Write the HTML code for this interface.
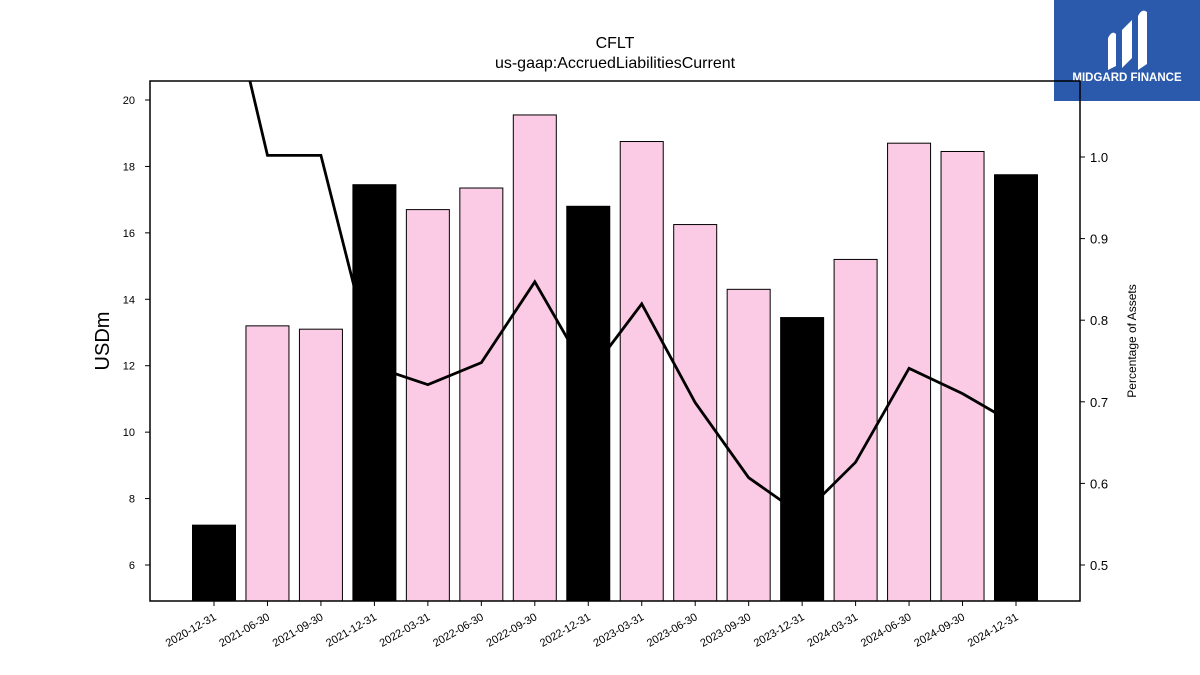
<!DOCTYPE html>
<html><head><meta charset="utf-8"><style>
body{margin:0;background:#fff;}
svg{display:block;font-family:"Liberation Sans","DejaVu Sans",sans-serif;}
</style></head><body>
<svg id="chart" width="1200" height="675">
<text x="615" y="48" text-anchor="middle" font-size="16">CFLT</text>
<text x="615" y="68" text-anchor="middle" font-size="16">us-gaap:AccruedLiabilitiesCurrent</text>
<g>
<rect x="1054" y="0" width="146" height="101" fill="#2b5aad"/>
<path d="M1108 70 L1108 38 Q1112 30 1116 34 L1116 66 Z M1122 68 L1122 30 L1132 20 L1132 58 Z M1138 70 L1138 16 Q1142 8 1147 12 L1147 64 Z" fill="#fff"/>
<text x="1127" y="81" text-anchor="middle" font-size="11.5" font-weight="bold" fill="#fff">MIDGARD FINANCE</text>
</g>
<g id="plot"></g>
<text x="109" y="341" text-anchor="middle" font-size="20" transform="rotate(-90 109 341)">USDm</text>
<text x="1136" y="341" text-anchor="middle" font-size="12" transform="rotate(-90 1136 341)">Percentage of Assets</text>
</svg>
<script>
const categories=["2020-12-31","2021-06-30","2021-09-30","2021-12-31","2022-03-31","2022-06-30","2022-09-30","2022-12-31","2023-03-31","2023-06-30","2023-09-30","2023-12-31","2024-03-31","2024-06-30","2024-09-30","2024-12-31"];
const barValues=[7.2,13.2,13.1,17.45,16.7,17.35,19.55,16.8,18.75,16.25,14.3,13.45,15.2,18.7,18.45,17.75];
const pctValues=[1.28,1.002,1.002,0.743,0.721,0.748,0.847,0.733,0.820,0.699,0.607,0.561,0.626,0.741,0.710,0.672];
const annual=[true,false,false,true,false,false,false,true,false,false,false,true,false,false,false,true];
const leftTicks=[6,8,10,12,14,16,18,20];
const rightTicks=[0.5,0.6,0.7,0.8,0.9,1.0];
const L=150,R=1080,T=81,B=601;
const ns="http://www.w3.org/2000/svg";
const g=document.getElementById('plot');
const yL=v=>565-(v-6)*33.214;
const yR=v=>565-(v-0.5)*816;
const step=(1016-214)/15;
const xC=i=>214+i*step;
function mk(t,a){const e=document.createElementNS(ns,t);for(const k in a)e.setAttribute(k,a[k]);g.appendChild(e);return e;}
const clip=mk('clipPath',{id:'pc'});g.removeChild(clip);
const cr=document.createElementNS(ns,'rect');cr.setAttribute('x',L);cr.setAttribute('y',T);cr.setAttribute('width',R-L);cr.setAttribute('height',B-T);clip.appendChild(cr);g.appendChild(clip);
barValues.forEach((v,i)=>{
 const r=mk('rect',{x:xC(i)-21.5,y:yL(v),width:43,height:B-yL(v),fill:annual[i]?'#000':'#fbcbe5',stroke:'#000','stroke-width':1});
 
 
});
const pts=pctValues.map((v,i)=>xC(i)+','+yR(v)).join(' ');
const pl=mk('polyline',{points:pts,fill:'none',stroke:'#000','stroke-width':2.8,'clip-path':'url(#pc)'});


const fr=mk('rect',{x:L,y:T,width:R-L,height:B-T,fill:'none',stroke:'#000','stroke-width':1.5});


leftTicks.forEach(v=>{
 mk('line',{x1:L-5,x2:L,y1:yL(v),y2:yL(v),stroke:'#000'});
 const t=mk('text',{x:L-15,y:yL(v)+4,'text-anchor':'end','font-size':11});t.textContent=v;
 
 
});
rightTicks.forEach(v=>{
 mk('line',{x1:R,x2:R+5,y1:yR(v),y2:yR(v),stroke:'#000'});
 const t=mk('text',{x:R+10,y:yR(v)+5,'font-size':13});t.textContent=v.toFixed(1);
 
 
});
categories.forEach((c,i)=>{
 mk('line',{x1:xC(i),x2:xC(i),y1:B,y2:B+5,stroke:'#000'});
 const x=xC(i)+3,y=B+18;
 const t=mk('text',{x:x,y:y,'text-anchor':'end','font-size':11,transform:`rotate(-30 ${x} ${y})`});t.textContent=c;
 
 
});
</script>
</body></html>
